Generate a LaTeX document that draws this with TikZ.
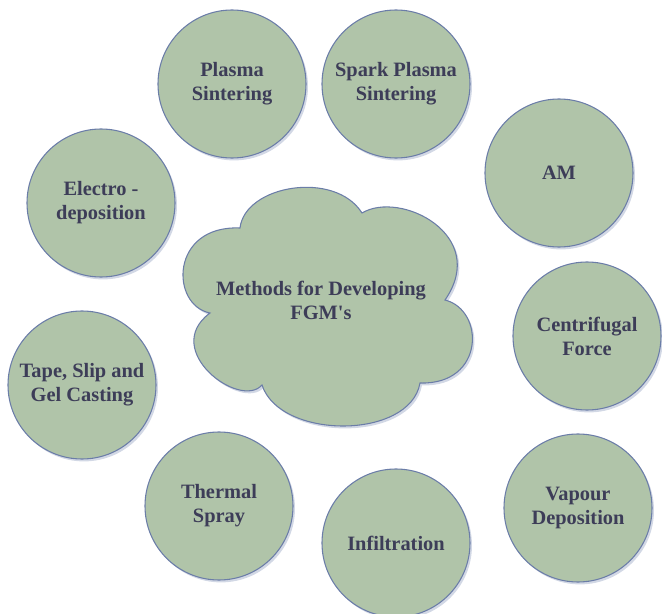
\documentclass[tikz,border=0pt]{standalone}
\usepackage{fontspec}
\setmainfont{Liberation Serif}
\usetikzlibrary{shadows}
\definecolor{sage}{HTML}{B0C4A9}
\definecolor{rim}{HTML}{6B7DA8}
\definecolor{ink}{HTML}{3D3D58}
\tikzset{
  blob/.style={fill=sage,draw=rim,line width=.8pt,
    drop shadow={shadow xshift=1.5pt,shadow yshift=-1.8pt,opacity=.3,fill=rim}},
  method/.style={blob,circle,minimum size=111pt,inner sep=0pt,align=center,
    text=ink,font=\fontsize{15.3}{18}\selectfont\bfseries},
}
\begin{document}
\begin{tikzpicture}[x=.75pt,y=-.75pt]
\useasboundingbox (0,0) rectangle (662,614);
    % cloud begin
\path[blob] (240,228) .. controls (245,185) and (335,170) .. (362,213)
  .. controls (400,190) and (490,235) .. (445,300)
  .. controls (485,310) and (485,385) .. (420,383)
  .. controls (410,440) and (280,440) .. (262,385)
  .. controls (240,410) and (160,350) .. (210,313)
  .. controls (170,305) and (170,225) .. (240,228) -- cycle;
\node[align=center,text=ink,font=\fontsize{15.3}{18}\selectfont\bfseries] (fgm) at (321,300) {Methods for Developing\\FGM\textquotesingle s};
% cloud end
\node[method] (ps) at (232,84) {Plasma\\Sintering};
\node[method] (sps) at (396,84) {Spark Plasma\\Sintering};
\node[method] (am) at (559,173) {AM};
\node[method] (ed) at (101,203) {Electro -\\deposition};
\node[method] (cf) at (587,336) {Centrifugal\\Force};
\node[method] (tsg) at (82,385) {Tape, Slip and\\Gel Casting};
\node[method] (ts) at (219,506) {Thermal\\Spray};
\node[method] (vd) at (578,508) {Vapour\\Deposition};
\node[method] (inf) at (396,543) {Infiltration};
\end{tikzpicture}
\end{document}
